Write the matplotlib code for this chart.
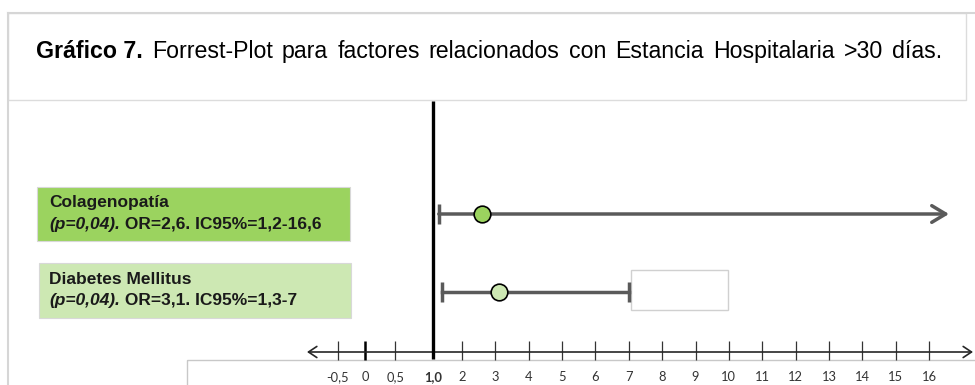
import matplotlib
matplotlib.use('Agg')
import matplotlib.pyplot as plt
import numpy as np
from matplotlib.patches import Rectangle
from matplotlib.lines import Line2D
from matplotlib.transforms import Affine2D

# factores asociados a estancia > 30 dias
factores = ['Colagenopatía', 'Diabetes Mellitus']
p_valor = ['(p=0,04).', '(p=0,04).']
detalle = [' OR=2,6. IC95%=1,2-16,6', ' OR=3,1. IC95%=1,3-7']
odds = [2.6, 3.1]
ic_inf = [1.2, 1.3]
ic_sup = [16.6, 7.0]
colores = ['#9bd35f', '#cde8b3']

# marcas del eje horizontal
ticks = [-0.5, 0, 0.5, 1.0, 2, 3, 4, 5, 6, 7, 8, 9, 10, 11, 12, 13, 14, 15, 16]
tick_labels = ['-0,5', '0', '0,5', '1,0', '2', '3', '4', '5', '6', '7', '8',
               '9', '10', '11', '12', '13', '14', '15', '16']

titulo_neg = 'Gráfico 7.'
titulo = 'Forrest-Plot para factores relacionados con Estancia Hospitalaria >30 días.'

# eje dibujado a mano: tramo bajo 1 estirado, lineal desde 2
kv = np.array([-0.5, 0, 0.5, 1, 2])
kp = np.array([-1.72, -0.91, 0.0, 1.13, 2])
pend = (kp[1] - kp[0]) / (kv[1] - kv[0])

def fwd(v):
    v = np.asarray(v, float)
    p = np.interp(v, kv, kp)
    p = np.where(v > kv[-1], v, p)
    return np.where(v < kv[0], kp[0] + (v - kv[0]) * pend, p)

def inv(p):
    p = np.asarray(p, float)
    v = np.interp(p, kp, kv)
    v = np.where(p > kp[-1], p, v)
    return np.where(p < kp[0], kv[0] + (p - kp[0]) / pend, v)

W, H = 975, 385
fig = plt.figure(figsize=(W / 100, H / 100), dpi=100)
# coordenadas en pixeles desde la esquina superior izquierda
px = Affine2D().scale(1 / W, -1 / H).translate(0, 1) + fig.transFigure

ax = fig.add_axes([0, 0, 1, 1])
ax.set_xscale('function', functions=(fwd, inv))
unidad = (929 - 462) / 14
ax.set_xlim(float(inv(2 - 462 / unidad)), float(inv(2 + (W - 462) / unidad)))
ax.set_ylim(H, 0)
ax.axis('off')
ax.patch.set_visible(False)
rend = fig.canvas.get_renderer()

# marcos grises
ax.add_line(Line2D([8, W], [13, 13], transform=px, color='#d6d6d6', lw=1.5))
ax.add_line(Line2D([8, 8], [13, H], transform=px, color='#d6d6d6', lw=1.5))
ax.add_patch(Rectangle((8, 13), 958, 87, transform=px, fill=False,
                       ec='#dcdcdc', lw=1))
ax.add_patch(Rectangle((187, 360), 800, 40, transform=px, fill=False,
                       ec='#c8c8c8', lw=1))

# titulo justificado entre x=36 y x=942
fuente = dict(fontsize=16.7, family='Liberation Sans', va='baseline')
piezas = [ax.text(0, 58, titulo_neg, transform=px, fontweight='bold', **fuente)]
piezas += [ax.text(0, 58, w, transform=px, **fuente) for w in titulo.split()]
anchos = [p.get_window_extent(rend).width for p in piezas]
hueco = (942 - 36 - sum(anchos)) / (len(piezas) - 1)
x = 36
for p, a in zip(piezas, anchos):
    p.set_x(x)
    x += a + hueco

# cajas de texto de cada factor
cajas = [(37, 187, 313, 54), (39, 263, 312, 55)]
fila_y = [214, 292]
letra = dict(fontsize=12.5, fontweight='bold', family='Liberation Sans',
             va='center', color='#1a1a1a')
for i, (x0, y0, w, h) in enumerate(cajas):
    ax.add_patch(Rectangle((x0, y0), w, h, transform=px, fc=colores[i],
                           ec='#d8d8d8', lw=0.8))
    ax.text(49, y0 + 16, factores[i], transform=px, **letra)
    tp = ax.text(49, y0 + 37, p_valor[i], transform=px, style='italic', **letra)
    xd = 49 + tp.get_window_extent(rend).width
    ax.text(xd, y0 + 37, detalle[i], transform=px, **letra)

# recuadro vacio junto a Diabetes Mellitus
ax.add_patch(Rectangle((631, 270), 97, 40, transform=px, fc='white',
                       ec='#d0d0d0', lw=1))

# linea de no efecto en OR = 1
ax.vlines(1.0, 101, 359, color='black', lw=2.4, zorder=4)

# eje horizontal con flechas
ax.annotate('', xy=(307, 352), xytext=(973, 352), xycoords=px, textcoords=px,
            arrowprops=dict(arrowstyle='<->,head_length=0.6,head_width=0.4',
                            color='#262626', lw=1.2, shrinkA=0, shrinkB=0))
otros = [t for t in ticks if t not in (0, 1.0)]
ax.vlines(otros, 341, 360, color='#333333', lw=0.9)
ax.vlines(0, 341, 360, color='black', lw=1.8)
for t, lab in zip(ticks, tick_labels):
    ax.text(t, 377, lab, ha='center', va='center', fontsize=9.3,
            family='Lato', color='#333333',
            fontweight='bold' if t == 1.0 else 'normal')

# intervalos de confianza y OR
gris = '#5a5a5a'
for i, y in enumerate(fila_y):
    ax.vlines(ic_inf[i], y - 10, y + 10, color=gris, lw=2.5, zorder=3)
    if ic_sup[i] > ticks[-1]:
        ax.annotate('', xy=(ic_sup[i], y), xytext=(ic_inf[i], y),
                    arrowprops=dict(arrowstyle='->,head_length=1.0,head_width=0.6',
                                    color=gris, lw=2.5, shrinkA=0, shrinkB=0),
                    zorder=3)
    else:
        ax.plot([ic_inf[i], ic_sup[i]], [y, y], color=gris, lw=2.5, zorder=3)
        ax.vlines(ic_sup[i], y - 10, y + 10, color=gris, lw=2.5, zorder=3)
    ax.plot(odds[i], y, 'o', ms=12, mfc=colores[i], mec='black', mew=1.2,
            zorder=5)

fig.savefig('out.png', dpi=100)
